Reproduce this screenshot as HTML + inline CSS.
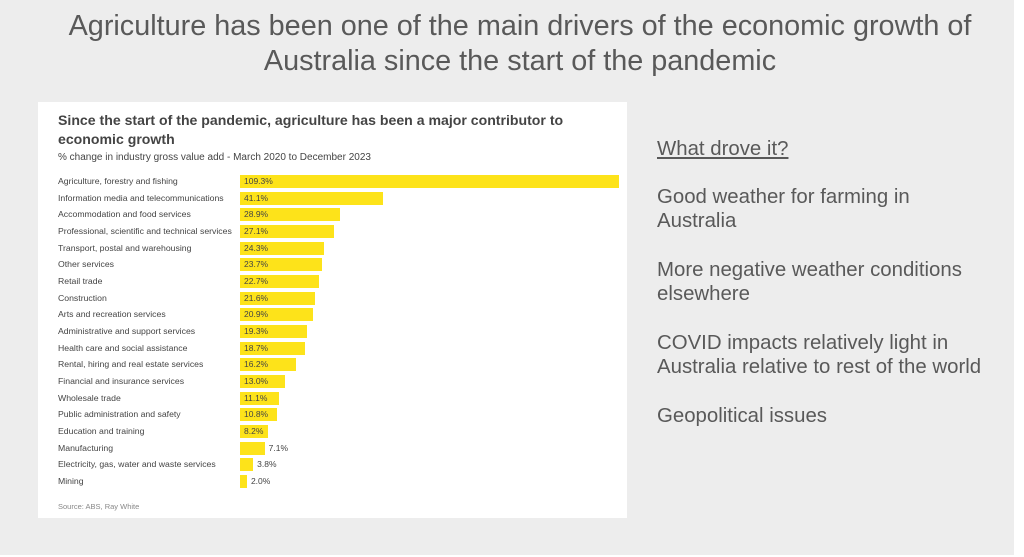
<!DOCTYPE html>
<html><head><meta charset="utf-8"><style>
body{margin:0;width:1024px;height:557px;background:#fff;position:relative;overflow:hidden;font-family:"Liberation Sans",sans-serif}
#bg{position:absolute;left:0;top:0;width:1014px;height:555px;background:#ededed}
h1{position:absolute;left:0;width:1040px;top:9px;margin:0;text-align:center;font-weight:normal;font-size:28.8px;line-height:35px;color:#595959}
#card{position:absolute;left:38px;top:102px;width:589px;height:416px;background:#fff}
.t{position:absolute;left:20px;top:9px;font-size:14.1px;font-weight:bold;color:#444;line-height:19px;width:560px}
.s{position:absolute;left:20px;top:50px;font-size:10px;color:#444}
.l{position:absolute;left:20px;font-size:8.7px;color:#444;line-height:13px}
.b{position:absolute;left:202px;height:13px;background:#fde31a}
.v{position:absolute;font-size:8.5px;color:#444;line-height:13px}
.src{position:absolute;left:20px;top:400px;font-size:7.5px;color:#888}
.r{position:absolute;left:657px;font-size:20.4px;color:#595959;line-height:24px}
</style></head><body>
<div id="bg"></div>
<h1>Agriculture has been one of the main drivers of the economic growth of<br>Australia since the start of the pandemic</h1>
<div id="card">
<div class="t">Since the start of the pandemic, agriculture has been a major contributor to economic growth</div>
<div class="s">% change in industry gross value add - March 2020 to December 2023</div>
<div id="rows"></div>
<div class="src">Source: ABS, Ray White</div>
</div>
<div class="r" style="top:137px;text-decoration:underline">What drove it?</div>
<div class="r" style="top:185px">Good weather for farming in<br>Australia</div>
<div class="r" style="top:258px">More negative weather conditions<br>elsewhere</div>
<div class="r" style="top:331px">COVID impacts relatively light in<br>Australia relative to rest of the world</div>
<div class="r" style="top:404px">Geopolitical issues</div>
<script>
var d=[["Agriculture, forestry and fishing",109.3],["Information media and telecommunications",41.1],["Accommodation and food services",28.9],["Professional, scientific and technical services",27.1],["Transport, postal and warehousing",24.3],["Other services",23.7],["Retail trade",22.7],["Construction",21.6],["Arts and recreation services",20.9],["Administrative and support services",19.3],["Health care and social assistance",18.7],["Rental, hiring and real estate services",16.2],["Financial and insurance services",13.0],["Wholesale trade",11.1],["Public administration and safety",10.8],["Education and training",8.2],["Manufacturing",7.1],["Electricity, gas, water and waste services",3.8],["Mining",2.0]];
var h="";d.forEach(function(r,i){var y=73+i*16.67,w=r[1]*3.47;
h+='<div class="l" style="top:'+y+'px">'+r[0]+'</div><div class="b" style="top:'+y+'px;width:'+w+'px"></div>';
var x=r[1]>8?206:202+w+4;h+='<div class="v" style="top:'+y+'px;left:'+x+'px">'+r[1].toFixed(1)+'%</div>';});
document.getElementById("rows").innerHTML=h;
</script>
</body></html>
